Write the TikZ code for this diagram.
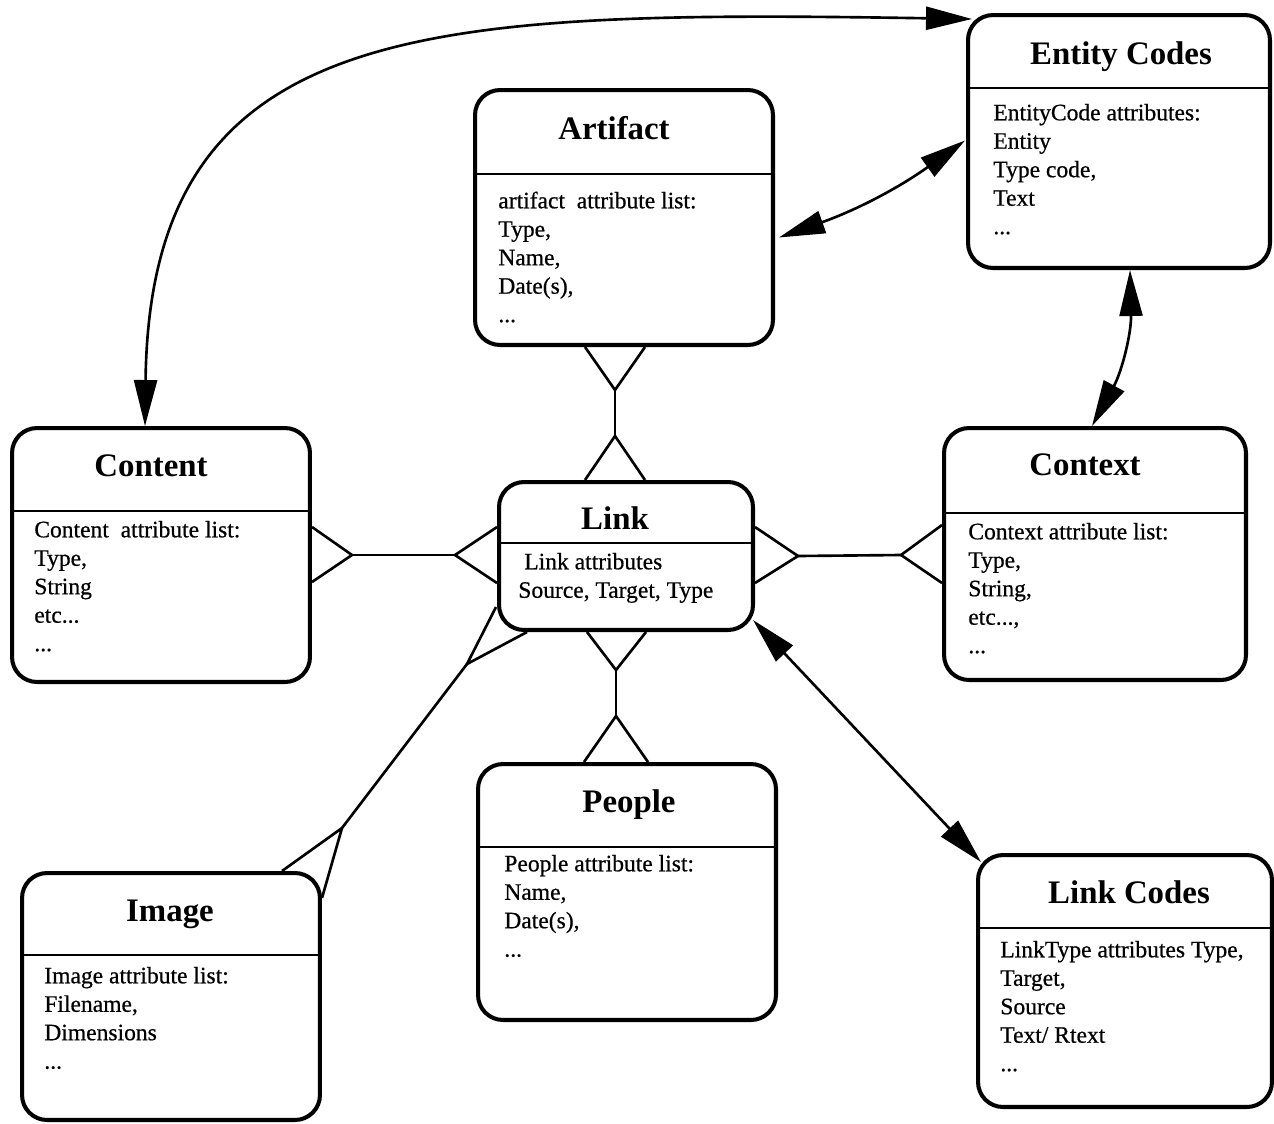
\documentclass[tikz,border=0pt]{standalone}
\usepackage{fontspec}
\setmainfont{Liberation Serif}
\newfontfamily\bodyfont{Liberation Serif}[FakeBold=0.6]
\usetikzlibrary{arrows.meta,calc}
\begin{document}
\begin{tikzpicture}[x=0.02cm,y=-0.02cm,
  box/.style={draw, line width=2.3pt, rounded corners=0.5cm, inner sep=0pt},
  divider/.style={line width=1.4pt},
  conn/.style={line width=1.5pt, line join=miter},
  dbl/.style={line width=1.5pt, {Triangle[length=0.92cm,width=0.46cm]}-{Triangle[length=0.92cm,width=0.46cm]}},
  title/.style={anchor=base, inner sep=0pt, font=\fontsize{18.7}{22}\selectfont\bfseries},
  body/.style={anchor=north west, inner sep=0pt, align=left, font=\bodyfont\fontsize{13.4}{16.2}\selectfont}]
\useasboundingbox (0,0) rectangle (1274,1123);

% boxes
\node[box, minimum width=6.04cm, minimum height=5.06cm] (EC) at (1119,141.5) {};
\node[box, minimum width=5.96cm, minimum height=5.10cm] (AR) at (624,217.5) {};
\node[box, minimum width=5.96cm, minimum height=5.08cm] (CN) at (161,555) {};
\node[box, minimum width=6.04cm, minimum height=5.04cm] (CX) at (1095,554) {};
\node[box, minimum width=5.08cm, minimum height=2.96cm] (LK) at (626,556) {};
\node[box, minimum width=5.96cm, minimum height=5.12cm] (PP) at (627,892) {};
\node[box, minimum width=5.96cm, minimum height=4.94cm] (IM) at (171,996.5) {};
\node[box, minimum width=5.88cm, minimum height=5.04cm] (LC) at (1125,981) {};

% dividers
\draw[divider] ($(EC.north west)+(0,75)$) -- ($(EC.north east)+(0,75)$);
\draw[divider] ($(AR.north west)+(0,86)$) -- ($(AR.north east)+(0,86)$);
\draw[divider] ($(CN.north west)+(0,85)$) -- ($(CN.north east)+(0,85)$);
\draw[divider] ($(CX.north west)+(0,87)$) -- ($(CX.north east)+(0,87)$);
\draw[divider] ($(LK.north west)+(0,63)$) -- ($(LK.north east)+(0,63)$);
\draw[divider] ($(PP.north west)+(0,85)$) -- ($(PP.north east)+(0,85)$);
\draw[divider] ($(IM.north west)+(0,84)$) -- ($(IM.north east)+(0,84)$);
\draw[divider] ($(LC.north west)+(0,75)$) -- ($(LC.north east)+(0,75)$);

% titles
\node[title] (ECt) at (1121,64) {Entity Codes};
\node[title] (ARt) at (614,139) {Artifact};
\node[title] (CNt) at (151,476) {Content};
\node[title] (CXt) at (1085,475) {Context};
\node[title] (LKt) at (615,529) {Link};
\node[title] (PPt) at (629,812) {People};
\node[title] (IMt) at (170,921) {Image};
\node[title] (LCt) at (1129,903) {Link Codes};

% bodies
\node[body] (ECb) at (993,100.6) {\rule{0pt}{11pt}EntityCode attributes:\\Entity\\Type code,\\Text\\...};
\node[body] (ARb) at (498,188.6) {\rule{0pt}{11pt}artifact\ \ attribute list:\\Type,\\Name,\\Date(s),\\...};
\node[body] (CNb) at (34,517.6) {\rule{0pt}{11pt}Content\ \ attribute list:\\Type,\\String\\etc...\\...};
\node[body] (CXb) at (968,519.6) {\rule{0pt}{11pt}Context attribute list:\\Type,\\String,\\etc...,\\...};
\node[body] (LKb) at (518,549.6) {\rule{0pt}{11pt}\hspace*{3.4pt}Link attributes\\Source, Target, Type};
\node[body] (PPb) at (504,851.6) {\rule{0pt}{11pt}People attribute list:\\Name,\\Date(s),\\...};
\node[body] (IMb) at (44,963.6) {\rule{0pt}{11pt}Image attribute list:\\Filename,\\Dimensions\\...};
\node[body] (LCb) at (1000,937.6) {\rule{0pt}{11pt}LinkType attributes Type,\\Target,\\Source\\Text/ Rtext\\...};

% crow's feet: Artifact -- Link
\draw[conn] ($(AR.south)+(-39,0)$) -- ($(AR.south)+(-9,43)$) -- ($(AR.south)+(21,0)$);
\draw[conn] ($(AR.south)+(-9,43)$) -- ($(LK.north)+(-11,-44)$);
\draw[conn] ($(LK.north)+(-41,0)$) -- ($(LK.north)+(-11,-44)$) -- ($(LK.north)+(19,0)$);

% Link -- People
\draw[conn] ($(LK.south)+(-39,0)$) -- ($(LK.south)+(-10,38)$) -- ($(LK.south)+(20,0)$);
\draw[conn] ($(LK.south)+(-10,38)$) -- ($(PP.north)+(-11,-46)$);
\draw[conn] ($(PP.north)+(-43,0)$) -- ($(PP.north)+(-11,-46)$) -- ($(PP.north)+(21,0)$);

% Content -- Link
\draw[conn] ($(CN.east)+(0,-28)$) -- ($(CN.east)+(40,0)$) -- ($(CN.east)+(0,27)$);
\draw[conn] ($(CN.east)+(40,0)$) -- ($(LK.west)+(-42,-1)$);
\draw[conn] ($(LK.west)+(0,-29)$) -- ($(LK.west)+(-42,-1)$) -- ($(LK.west)+(0,27)$);

% Link -- Context
\draw[conn] ($(LK.east)+(0,-29)$) -- ($(LK.east)+(43,0)$) -- ($(LK.east)+(0,27)$);
\draw[conn] ($(LK.east)+(43,0)$) -- ($(CX.west)+(-41,1)$);
\draw[conn] ($(CX.west)+(0,-29)$) -- ($(CX.west)+(-41,1)$) -- ($(CX.west)+(0,29)$);

% Link -- Image
\coordinate (lsplit) at ($(LK.south)+(-159,32)$);
\coordinate (isplit) at ($(IM.north)+(171,-43)$);
\draw[conn] ($(LK.west)+(-1,51)$) -- (lsplit) -- ($(LK.south)+(-99,0)$);
\draw[conn] (lsplit) -- (isplit);
\draw[conn] ($(IM.north)+(111,0)$) -- (isplit) -- ($(IM.east)+(0,-98.5)$);

% double-headed arrows
\draw[dbl] ($(CN.north)+(-16,0)$) .. controls (150,20) and (420,10) .. ($(EC.north west)+(6,6)$);
\draw[dbl] ($(AR.east)+(4,20)$) to[bend right=8] ($(EC.west)+(-1,-1)$);
\draw[dbl] ($(EC.south)+(11,0)$) to[bend left=15] ($(CX.north)+(-3,0)$);
\draw[dbl] ($(LK.south east)+(-2,-12)$) -- ($(LC.north west)+(5,9)$);
\end{tikzpicture}
\end{document}
